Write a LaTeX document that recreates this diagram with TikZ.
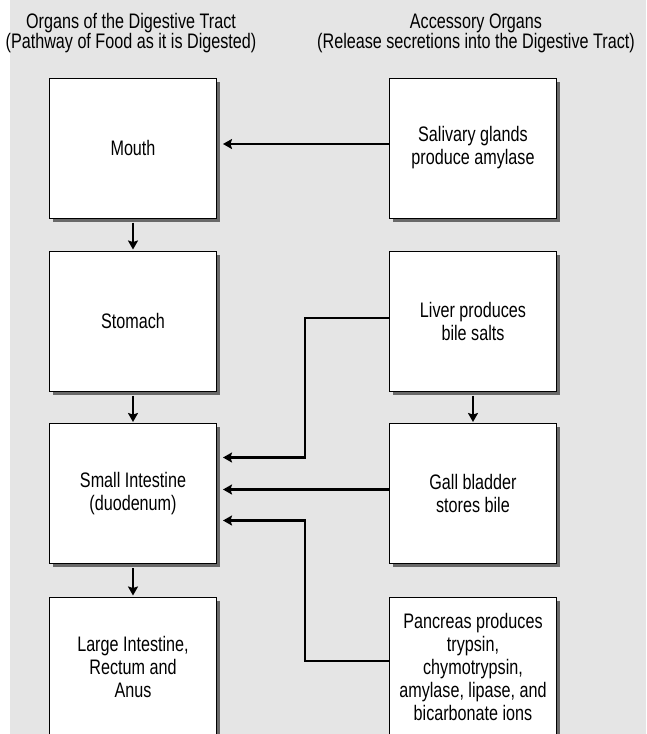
\documentclass[tikz,border=0pt]{standalone}
\usepackage{fontspec}
\setmainfont{Liberation Sans}[FakeStretch=0.77]
\definecolor{panelgray}{RGB}{229, 229, 229}
\definecolor{shadegray}{RGB}{105, 105, 105}
\usetikzlibrary{arrows.meta, shadows}
\tikzset{
    organbox/.style={rectangle, draw=black, line width=1pt, fill=white,
                     minimum width=167pt, minimum height=140pt, align=center,
                     font=\fontsize{21}{23}\selectfont,
                     drop shadow={shadow xshift=3.5pt, shadow yshift=-3.5pt, fill=shadegray, opacity=1}},
    headtext/.style={align=center, font=\fontsize{21}{20}\selectfont},
    arrow/.style={-{Stealth[length=9pt, width=10pt, inset=1.5pt]}, line width=2.2pt, black},
}

\begin{document}
\begin{tikzpicture}[x=1pt, y=-1pt]
    \clip (0,0) rectangle (646,734);
    \fill[panelgray] (10,0) rectangle (646,734);

    % Column headings
    \node[headtext] (headtract) at (131, 33) {Organs of the Digestive Tract\\(Pathway of Food as it is Digested)};
    \node[headtext] (headaccess) at (476, 33) {Accessory Organs\\(Release secretions into the Digestive Tract)};

    % Digestive tract
    \node[organbox] (mouth) at (133, 148) {Mouth};
    \node[organbox] (stomach) at (133, 321) {Stomach};
    \node[organbox] (small) at (133, 493.5) {Small Intestine\\(duodenum)};
    \node[organbox] (large) at (133, 667) {Large Intestine,\\Rectum and\\Anus};

    % Accessory organs
    \node[organbox] (salivary) at (473, 148) {Salivary glands\\produce amylase};
    \node[organbox] (liver) at (473, 321) {Liver produces\\bile salts};
    \node[organbox] (gall) at (473, 493.5) {Gall bladder\\stores bile};
    \node[organbox] (pancreas) at (473, 667) {Pancreas produces\\trypsin,\\chymotrypsin,\\amylase, lipase, and\\bicarbonate ions};

    % Pathway of food
    \draw[arrow, shorten <=4pt, shorten >=1pt] (mouth) -- (stomach);
    \draw[arrow, shorten <=4pt, shorten >=1pt] (stomach) -- (small);
    \draw[arrow, shorten <=4pt, shorten >=1pt] (small) -- (large);
    \draw[arrow, shorten <=4pt, shorten >=1pt] (liver) -- (gall);

    % Secretions
    \draw[arrow, shorten >=6pt] ([yshift=4pt]salivary.west) -- ([yshift=4pt]mouth.east);
    \draw[arrow, shorten >=6pt] ([yshift=3pt]liver.west) -- ++(-84,0) |- ([yshift=36pt]small.east);
    \draw[arrow, shorten >=6pt] ([yshift=4pt]gall.west) -- ([yshift=4pt]small.east);
    \draw[arrow, shorten >=6pt] ([yshift=6pt]pancreas.west) -- ++(-84,0) |- ([yshift=-27pt]small.east);
\end{tikzpicture}
\end{document}
